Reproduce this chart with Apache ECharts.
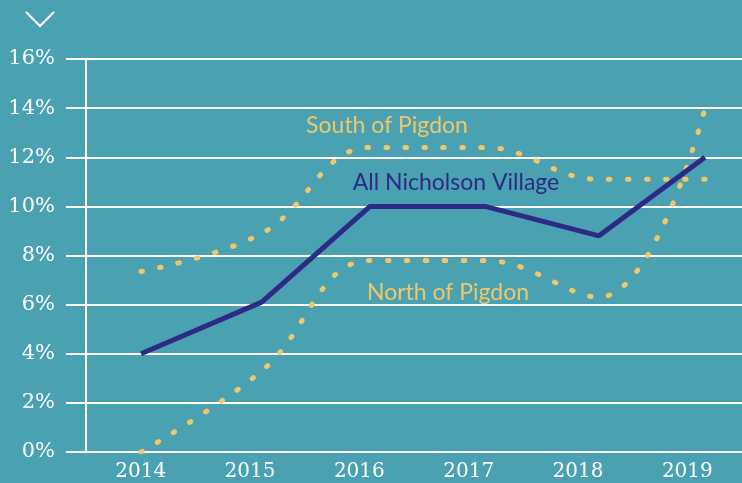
<!DOCTYPE html>
<html>
<head>
<meta charset="utf-8">
<script src="https://cdn.jsdelivr.net/npm/echarts@6/dist/echarts.min.js"></script>
<style>
	html, body { margin: 0; padding: 0; background: #4aa1b1; }
	#chart { width: 742px; height: 483px; }
</style>
</head>
<body>
<div id="chart"></div>
<script>
var years = ['2014', '2015', '2016', '2017', '2018', '2019'];
// where each year's reading sits along the time line (as drawn in the original)
var yearPos = [2014, 2015.07, 2016.03, 2017.05, 2018.06, 2019];
var yTicks = ['0%', '2%', '4%', '6%', '8%', '10%', '12%', '14%', '16%'];
var allVillage = [4, 6.1, 10, 10, 8.8, 12];
var southPigdon = [7.35, 8.9, 12.4, 12.4, 11.1, 11.1];
var northPigdon = [0, 3.3, 7.8, 7.8, 6.3, 14];

function toPairs(arr) {
	var out = [];
	for (var i = 0; i < arr.length; i++) {
		out.push([yearPos[i], arr[i]]);
	}
	return out;
}

var yellow = '#efc86c';
var navy = '#2d2a85';
var dotted = { color : yellow, width : 5, type : [1.5, 17.5], cap : 'round' };

var chart = echarts.init(document.getElementById('chart'));
var option = {
	backgroundColor : '#4aa1b1',
	animation : false,
	grid : {
		left : 86,
		right : 0,
		top : 59,
		bottom : 31
	},
	xAxis : [
		{
			type : 'category',
			data : years,
			boundaryGap : true,
			axisLine : { lineStyle : { color : '#ffffff', width : 2 } },
			axisTick : { length : 11, lineStyle : { color : '#ffffff', width : 2 } },
			axisLabel : {
				color : '#ffffff',
				fontFamily : 'DejaVu Serif',
				fontSize : 20,
				margin : 10
			}
		},
		{
			// hidden numeric axis the lines are plotted on
			type : 'value',
			show : false,
			min : 2013.512,
			max : 2019.328
		}
	],
	yAxis : {
		type : 'value',
		min : 0,
		max : 16,
		interval : 2,
		axisLine : { show : true, lineStyle : { color : '#ffffff', width : 2 } },
		axisTick : { show : true, length : 20, lineStyle : { color : '#ffffff', width : 2 } },
		splitLine : { lineStyle : { color : '#ffffff', width : 2 } },
		axisLabel : {
			color : '#ffffff',
			fontFamily : 'DejaVu Serif',
			fontSize : 21,
			margin : 31,
			formatter : function (v) { return yTicks[v / 2]; }
		}
	},
	series : [
		{
			name : 'South of Pigdon',
			type : 'line',
			xAxisIndex : 1,
			data : toPairs(southPigdon),
			smooth : 0.4,
			symbol : 'none',
			lineStyle : dotted
		},
		{
			name : 'North of Pigdon',
			type : 'line',
			xAxisIndex : 1,
			data : toPairs(northPigdon),
			smooth : 0.4,
			symbol : 'none',
			lineStyle : dotted
		},
		{
			name : 'All Nicholson Village',
			type : 'line',
			xAxisIndex : 1,
			data : toPairs(allVillage),
			symbol : 'none',
			lineStyle : { color : navy, width : 5 }
		}
	],
	graphic : [
		{
			type : 'polyline',
			shape : { points : [[26, 12], [40, 26], [54, 12]] },
			style : { stroke : '#ffffff', lineWidth : 2, fill : null }
		},
		{
			type : 'text',
			x : 387, y : 126,
			style : { text : 'South of Pigdon', fill : yellow, font : '23px Lato', align : 'center', verticalAlign : 'middle' }
		},
		{
			type : 'text',
			x : 456, y : 183,
			style : { text : 'All Nicholson Village', fill : navy, font : '23px Lato', align : 'center', verticalAlign : 'middle' }
		},
		{
			type : 'text',
			x : 448, y : 293,
			style : { text : 'North of Pigdon', fill : yellow, font : '23px Lato', align : 'center', verticalAlign : 'middle' }
		}
	]
};
chart.setOption(option);
</script>
</body>
</html>
